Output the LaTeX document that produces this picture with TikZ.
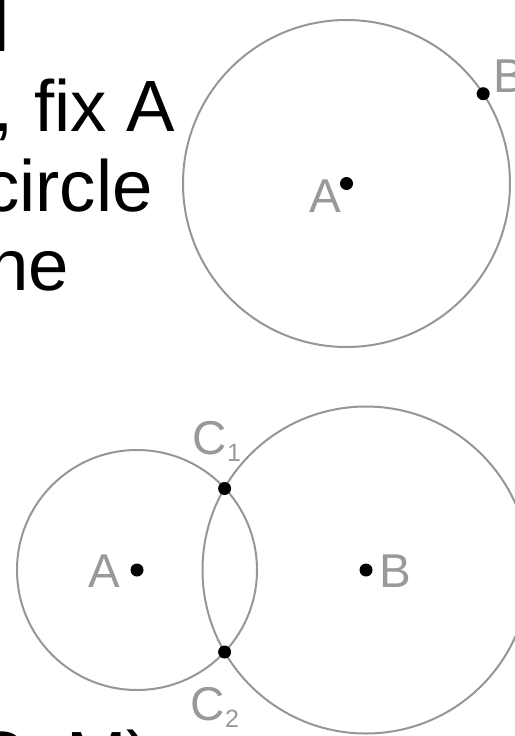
\documentclass[tikz,border=0pt]{standalone}
\usepackage{fontspec}
\setmainfont{Liberation Sans}
\definecolor{cgray}{RGB}{150,150,150}
\definecolor{lgray}{RGB}{153,153,153}
\tikzset{
  body/.style={inner sep=0pt, anchor=base east, text=black, font=\fontsize{72.6}{80}\selectfont},
  ptlabel/.style={inner sep=0pt, anchor=base west, text=lgray, font=\fontsize{47.5}{50}\selectfont},
  circ/.style={draw=cgray, line width=2pt},
  dot/.style={circle, fill=black, inner sep=0pt, minimum size=13pt}
}
\newcommand{\subsc}[1]{\raisebox{-7pt}{\fontsize{25}{25}\selectfont #1}}
\begin{document}
\begin{tikzpicture}[x=1pt,y=-1pt]
\useasboundingbox (0,0) rectangle (514,736);
% left text (cut off by the page)
\node[body] (t0) at (9.9,51) {l};
\node[body] (t1) at (175.5,131) {, fix A};
\node[body] (t2) at (153,211) {circle};
\node[body] (t3) at (69,290) {ne};
\node[body] (t4) at (151,782) {C, M)};
% top figure
\coordinate (ta) at (346.5,183.5);
\coordinate (tb) at (483.2,93.7);
\draw[circ] (ta) circle[radius=163.5];
\node[dot] (tadot) at (ta) {};
\node[dot] (tbdot) at (tb) {};
\node[ptlabel] (talab) at (309,212) {A};
\node[ptlabel] (tblab) at (493.3,92) {B};
% bottom figure
\coordinate (ba) at (137,570);
\coordinate (bb) at (366,570);
\coordinate (c1) at (224.6,488.5);
\coordinate (c2) at (224.6,652);
\draw[circ] (ba) circle[radius=120];
\draw[circ] (bb) circle[radius=163.5];
\node[dot] (badot) at (ba) {};
\node[dot] (bbdot) at (bb) {};
\node[dot] (c1dot) at (c1) {};
\node[dot] (c2dot) at (c2) {};
\node[ptlabel] (balab) at (88,587) {A};
\node[ptlabel] (bblab) at (379.6,587) {B};
\node[ptlabel] (c1lab) at (192.6,454.5) {C\subsc{1}};
\node[ptlabel] (c2lab) at (190.6,720) {C\subsc{2}};
\end{tikzpicture}
\end{document}
